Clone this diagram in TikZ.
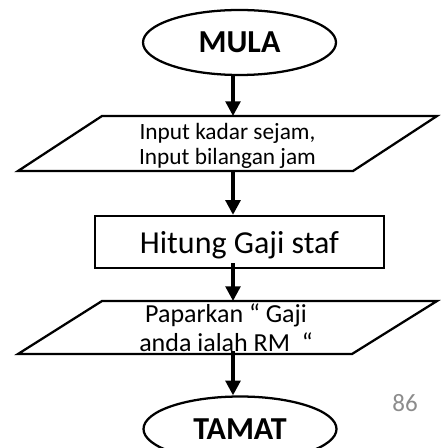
\documentclass[tikz,border=0pt]{standalone}
\usepackage{fontspec}
\setmainfont{Carlito}
\usetikzlibrary{shapes.geometric,arrows.meta}
\definecolor{pagegray}{HTML}{8C8C8C}

\begin{document}
\begin{tikzpicture}[x=0.75pt, y=0.75pt,
    outline/.style={line width=1.7pt, line join=miter},
    terminal/.style={ellipse, draw, outline, minimum width=144.75pt, minimum height=48.75pt,
        inner sep=0pt, font=\fontsize{24}{28}\selectfont\bfseries},
    iotext/.style={anchor=base, inner sep=0pt},
    process/.style={rectangle, draw, outline, minimum width=216.75pt,
        minimum height=39pt, inner sep=0pt, text depth=0pt, font=\fontsize{24}{28}\selectfont},
    flow/.style={-{Triangle[width=11pt,length=11pt]}, line width=2.6pt}]

    % 画布范围
    \useasboundingbox (0,0) rectangle (443,-448);

    % 开始 / 结束
    \node[terminal] (mula) at (239.5,-42.5) {MULA};
    \node[terminal] (tamat) at (240,-429) {TAMAT};

    % 输入 (平行四边形)
    \coordinate (input-n) at (233,-116);
    \coordinate (input-s) at (233,-171);
    \draw[outline] (102,-116) -- (437,-116) -- (353,-171) -- (18,-171) -- cycle;
    \node[iotext, font=\fontsize{17.5}{18.75}\selectfont] (input-a) at (227.5,-140) {Input kadar sejam,};
    \node[iotext, font=\fontsize{17.5}{18.75}\selectfont] (input-b) at (227.5,-165) {Input bilangan jam};

    % 计算
    \node[process] (hitung) at (239.5,-242) {Hitung Gaji staf};

    % 输出 (平行四边形)
    \coordinate (papar-n) at (233,-301);
    \coordinate (papar-s) at (233,-354);
    \draw[outline] (102,-301) -- (437,-301) -- (352,-354) -- (18,-354) -- cycle;
    \node[iotext, font=\fontsize{19.5}{22.5}\selectfont] (papar-a) at (226,-322) {Paparkan “ Gaji};
    \node[iotext, font=\fontsize{19.5}{22.5}\selectfont] (papar-b) at (226,-351) {anda ialah RM~~“};

    % 页码
    \node[text=pagegray, font=\fontsize{18.75}{20}\selectfont] (page) at (405,-403) {86};

    % 箭头 (同一竖线)
    \coordinate (axis) at (233,0);
    \foreach \a/\b/\s in {mula.south/input-n/0pt, input-s/hitung.north/0pt,
                          hitung.south/papar-n/-4.5pt, papar-s/tamat.north/-2pt} {
        \draw[flow, shorten <=\s] (\a -| axis) -- (\b -| axis);
    }
\end{tikzpicture}
\end{document}
